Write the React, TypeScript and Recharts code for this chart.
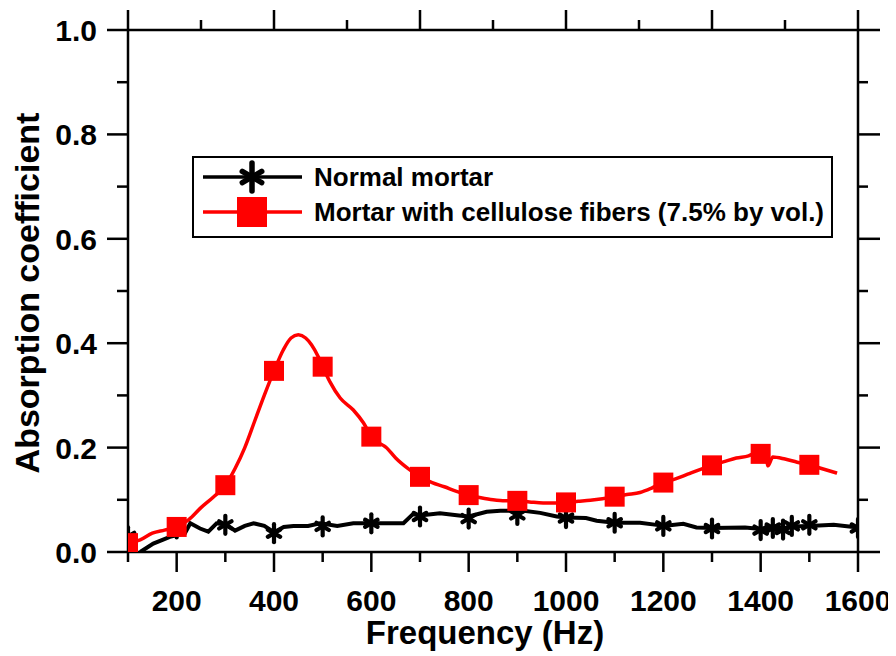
import { ComposedChart, Line, Scatter, XAxis, YAxis } from "recharts";

// values
const redCurveHz = [100, 125, 150, 175, 200, 225, 250, 275, 300, 320, 340, 360, 380, 400, 419, 435, 450, 465, 477, 491, 500, 515, 536, 563, 584, 600, 632, 650, 675, 700, 725, 750, 775, 800, 825, 850, 875, 900, 925, 953, 975, 1000, 1025, 1050, 1075, 1100, 1125, 1152, 1175, 1200, 1225, 1250, 1275, 1300, 1325, 1350, 1375, 1390, 1400, 1410, 1415, 1425, 1450, 1475, 1500, 1525, 1557];
const redCurveVal = [0.017, 0.023, 0.036, 0.042, 0.048, 0.062, 0.085, 0.105, 0.128, 0.16, 0.2, 0.25, 0.3, 0.347, 0.387, 0.41, 0.416, 0.41, 0.397, 0.374, 0.355, 0.326, 0.295, 0.272, 0.247, 0.221, 0.199, 0.18, 0.16, 0.144, 0.133, 0.125, 0.116, 0.109, 0.104, 0.1, 0.098, 0.098, 0.096, 0.094, 0.094, 0.095, 0.097, 0.099, 0.102, 0.106, 0.11, 0.114, 0.122, 0.133, 0.14, 0.149, 0.158, 0.166, 0.173, 0.18, 0.184, 0.19, 0.188, 0.192, 0.165, 0.182, 0.178, 0.172, 0.167, 0.16, 0.151];
const redMarkHz = [100, 200, 300, 400, 500, 600, 700, 800, 900, 1000, 1100, 1200, 1300, 1400, 1500];
const redMarkVal = [0.017, 0.048, 0.128, 0.347, 0.355, 0.221, 0.144, 0.109, 0.098, 0.095, 0.106, 0.133, 0.166, 0.188, 0.167];

const blackCurveHz = [125, 152, 186, 217, 228, 248, 265, 282, 303, 320, 340, 358, 380, 400, 420, 440, 470, 495, 530, 563, 601, 640, 666, 686, 700, 741, 780, 800, 837, 865, 913, 947, 981, 1000, 1041, 1063, 1100, 1152, 1186, 1200, 1241, 1268, 1300, 1368, 1400, 1425, 1446, 1464, 1500, 1550, 1600];
const blackCurveVal = [0.0, 0.016, 0.029, 0.036, 0.055, 0.045, 0.039, 0.055, 0.052, 0.041, 0.05, 0.055, 0.05, 0.038, 0.048, 0.05, 0.05, 0.055, 0.05, 0.055, 0.055, 0.055, 0.055, 0.073, 0.07, 0.074, 0.07, 0.068, 0.077, 0.079, 0.079, 0.075, 0.068, 0.066, 0.065, 0.06, 0.056, 0.056, 0.052, 0.05, 0.054, 0.047, 0.046, 0.047, 0.044, 0.046, 0.043, 0.049, 0.05, 0.052, 0.047];
const blackMarkHz = [100, 200, 300, 400, 500, 600, 700, 800, 900, 1000, 1100, 1200, 1300, 1400, 1425, 1446, 1464, 1500, 1600];
const blackMarkVal = [0.03, 0.045, 0.052, 0.036, 0.049, 0.055, 0.068, 0.064, 0.071, 0.065, 0.056, 0.05, 0.045, 0.042, 0.046, 0.043, 0.05, 0.052, 0.046];

const bottomTicks = [100, 200, 300, 400, 500, 600, 700, 800, 900, 1000, 1100, 1200, 1300, 1400, 1500, 1600];
const topTicks = [100, 250, 400, 550, 700, 850, 1000, 1150, 1300, 1450, 1600];
const yTicks = [0, 0.1, 0.2, 0.3, 0.4, 0.5, 0.6, 0.7, 0.8, 0.9, 1.0];

const seriesNames = ["Normal mortar", "Mortar with cellulose fibers (7.5% by vol.)"];

const zip = (xs: number[], ys: number[]) => xs.map((f, i) => ({ f, v: ys[i] }));
const redCurve = zip(redCurveHz, redCurveVal);
const redMarks = zip(redMarkHz, redMarkVal);
const blackCurve = zip(blackCurveHz, blackCurveVal);
const blackMarks = zip(blackMarkHz, blackMarkVal);

const FONT = '"Liberation Sans", Arial, Helvetica, sans-serif';
const AX = 2.5;

const Star = ({ cx, cy, r = 9, w = 4.2 }: any) => {
  const dx = r * 0.8 * Math.cos(Math.PI / 6);
  const dy = r * 0.8 * Math.sin(Math.PI / 6);
  return (
    <g stroke="#000" strokeWidth={w} strokeLinecap="round">
      <line x1={cx} y1={cy - r} x2={cx} y2={cy + r} />
      <line x1={cx - dx} y1={cy - dy} x2={cx + dx} y2={cy + dy} />
      <line x1={cx - dx} y1={cy + dy} x2={cx + dx} y2={cy - dy} />
    </g>
  );
};

const Square = ({ cx, cy, s = 20 }: any) => (
  <rect x={cx - s / 2} y={cy - s / 2} width={s} height={s} fill="#ff0000" />
);

const BottomTick = ({ x, y, payload }: any) => {
  const major = payload.value % 200 === 0;
  return (
    <g>
      <line x1={x} x2={x} y1={y} y2={y + (major ? 20 : 10)} stroke="#000" strokeWidth={AX} />
      {major && (
        <text x={x} y={y + 59} textAnchor="middle" fontFamily={FONT} fontWeight="bold" fontSize={30} fill="#000">
          {payload.value}
        </text>
      )}
    </g>
  );
};

const TopTick = ({ x, y, payload }: any) => {
  const major = (payload.value - 100) % 300 === 0;
  return <line x1={x} x2={x} y1={y} y2={y - (major ? 20 : 10)} stroke="#000" strokeWidth={AX} />;
};

const LeftTick = ({ x, y, payload }: any) => {
  const major = Math.round(payload.value * 10) % 2 === 0;
  return (
    <g>
      <line x1={x - (major ? 21 : 11)} x2={x} y1={y} y2={y} stroke="#000" strokeWidth={AX} />
      {major && (
        <text x={x - 31} y={y + 11} textAnchor="end" fontFamily={FONT} fontWeight="bold" fontSize={30} fill="#000">
          {payload.value.toFixed(1)}
        </text>
      )}
    </g>
  );
};

const RightTick = ({ x, y, payload }: any) => {
  const major = Math.round(payload.value * 10) % 2 === 0;
  return <line x1={x} x2={x + (major ? 22 : 10)} y1={y} y2={y} stroke="#000" strokeWidth={AX} />;
};

const XTitle = ({ viewBox }: any) => (
  <text x={viewBox.x + viewBox.width / 2 - 8} y={viewBox.y + 92} textAnchor="middle" fontFamily={FONT} fontWeight="bold" fontSize={33} fill="#000">
    Frequency (Hz)
  </text>
);

const YTitle = ({ viewBox }: any) => {
  const cx = 31;
  const cy = viewBox.y + viewBox.height / 2 + 2;
  return (
    <text x={cx} y={cy} transform={`rotate(-90, ${cx}, ${cy})`} textAnchor="middle" fontFamily={FONT} fontWeight="bold" fontSize={34} fill="#000">
      Absorption coefficient
    </text>
  );
};

const LegendBox = () => (
  <div
    style={{
      position: "absolute",
      left: 184,
      top: 148,
      width: 641,
      height: 82,
      boxSizing: "border-box",
      border: "2px solid #000",
      background: "#fff",
      fontFamily: FONT,
      fontWeight: "bold",
      fontSize: 26,
    }}
  >
    {[0, 1].map((i) => (
      <div key={i} style={{ position: "absolute", left: 0, top: i === 0 ? 1 : 36, height: 36, display: "flex", alignItems: "center" }}>
        <svg width={120} height={36} style={{ display: "block" }}>
          <line x1={9} x2={108} y1={18} y2={18} stroke={i === 0 ? "#000" : "#ff0000"} strokeWidth={3.5} />
          {i === 0 ? <Star cx={58} cy={18} r={14} w={5.5} /> : <Square cx={58} cy={18} s={30} />}
        </svg>
        <span style={{ whiteSpace: "nowrap", lineHeight: "36px" }}>{seriesNames[i]}</span>
      </div>
    ))}
  </div>
);

export default function App() {
  return (
    <div style={{ position: "relative", width: 888, height: 648, background: "#fff" }}>
      <ComposedChart width={888} height={648} margin={{ top: 0, right: 0, bottom: 0, left: 0 }}>
        <XAxis
          xAxisId="b"
          dataKey="f"
          type="number"
          domain={[100, 1600]}
          allowDataOverflow
          ticks={bottomTicks}
          interval={0}
          height={104}
          tickSize={0}
          tickMargin={0}
          tickLine={false}
          axisLine={{ stroke: "#000", strokeWidth: AX }}
          tick={<BottomTick />}
          label={{ content: XTitle }}
        />
        <XAxis
          xAxisId="t"
          orientation="top"
          dataKey="f"
          type="number"
          domain={[100, 1600]}
          allowDataOverflow
          ticks={topTicks}
          interval={0}
          height={22}
          tickSize={0}
          tickMargin={0}
          tickLine={false}
          axisLine={{ stroke: "#000", strokeWidth: AX }}
          tick={<TopTick />}
        />
        <YAxis
          yAxisId="l"
          type="number"
          domain={[0, 1]}
          allowDataOverflow
          ticks={yTicks}
          interval={0}
          width={120}
          tickSize={0}
          tickMargin={0}
          tickLine={false}
          axisLine={{ stroke: "#000", strokeWidth: AX }}
          tick={<LeftTick />}
          label={{ content: YTitle }}
        />
        <YAxis
          yAxisId="r"
          orientation="right"
          type="number"
          domain={[0, 1]}
          allowDataOverflow
          ticks={yTicks}
          interval={0}
          width={38}
          tickSize={0}
          tickMargin={0}
          tickLine={false}
          axisLine={{ stroke: "#000", strokeWidth: AX }}
          tick={<RightTick />}
        />
        <Line
          xAxisId="b"
          yAxisId="l"
          data={blackCurve}
          dataKey="v"
          type="linear"
          stroke="#000"
          strokeWidth={4}
          dot={false}
          activeDot={false}
          isAnimationActive={false}
        />
        <Scatter
          xAxisId="b"
          yAxisId="l"
          data={blackMarks}
          dataKey="v"
          shape={(p: any) => <Star cx={p.cx} cy={p.cy} />}
          isAnimationActive={false}
        />
        <Line
          xAxisId="b"
          yAxisId="l"
          data={redCurve}
          dataKey="v"
          type="monotone"
          stroke="#ff0000"
          strokeWidth={3.5}
          dot={false}
          activeDot={false}
          isAnimationActive={false}
        />
        <Scatter
          xAxisId="b"
          yAxisId="l"
          data={redMarks}
          dataKey="v"
          shape={(p: any) => <Square cx={p.cx} cy={p.cy} />}
          isAnimationActive={false}
        />
      </ComposedChart>
      <LegendBox />
    </div>
  );
}
